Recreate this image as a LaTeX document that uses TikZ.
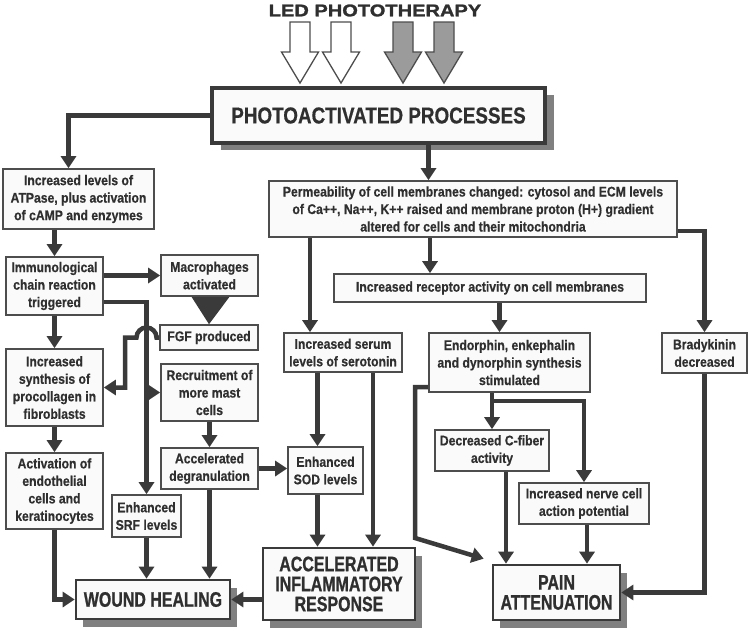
\documentclass[tikz,border=0pt]{standalone}
\usepackage{fontspec}
\setmainfont{Liberation Sans}
\newfontfamily\boxfont{Liberation Sans}[FakeStretch=0.87,FakeBold=0.5]
\newfontfamily\bigfont{Liberation Sans}[FakeStretch=0.76,FakeBold=0.9]
\newfontfamily\photofont{Liberation Sans}[FakeStretch=0.82,FakeBold=0.6]
\newfontfamily\ledfont{Liberation Sans}[FakeStretch=1.18,FakeBold=1.6]
\usetikzlibrary{arrows.meta,shadows,calc}
\definecolor{lc}{HTML}{3A3A3A}
\definecolor{bc}{HTML}{4D4D4D}
\definecolor{tc}{HTML}{2F2F2F}
\definecolor{sc}{HTML}{808080}
\definecolor{fc}{HTML}{FAFAFA}
\definecolor{ga}{HTML}{9B9B9B}
\tikzset{
 sbox/.style={draw=bc, line width=1.6pt, fill=fc, inner sep=0pt, align=center, text=tc,
   font=\boxfont\bfseries\fontsize{14}{17.5}\selectfont},
 bbox/.style={draw=lc, line width=2.6pt, fill=fc, inner sep=0pt, align=center, text=tc,
   font=\bigfont\bfseries\fontsize{21}{20}\selectfont,
   drop shadow={shadow xshift=7pt, shadow yshift=-8pt, fill=sc, opacity=1}},
 conn/.style={draw=lc, line width=4.5pt, -{Triangle[length=12pt,width=15pt]}},
 blk/.style={draw=bc, line width=1.3pt},
}
\begin{document}
\begin{tikzpicture}[x=1pt,y=-1pt]
\useasboundingbox (0,0) rectangle (749,630);
% title
\node[font=\ledfont\bfseries\fontsize{17}{17}\selectfont, text=tc, inner sep=0pt] (led) at (375,10.5) {LED PHOTOTHERAPY};
\foreach \x/\f in {300/white,341/white,403/ga,444/ga}
  \draw[blk, fill=\f] ({\x-10},22) -- ({\x+10},22) -- ({\x+10},52) -- ({\x+18.5},52) -- (\x,83) -- ({\x-18.5},52) -- ({\x-10},52) -- cycle;
\node[draw=lc, line width=4pt, fill=fc, inner sep=0pt, text=tc,
  font=\photofont\bfseries\fontsize{23}{23}\selectfont,
  minimum width=333pt, minimum height=55pt,
  drop shadow={shadow xshift=9pt,shadow yshift=-7pt,fill=sc,opacity=1}] (photo) at (378.5,115.5) {PHOTOACTIVATED PROCESSES};
% left column
\node[sbox, minimum width=151pt, minimum height=60pt] (atp) at (78.5,199) {Increased levels of\\ATPase, plus activation\\of cAMP and enzymes};
\node[sbox, minimum width=97pt, minimum height=58pt] (immuno) at (54.5,286) {Immunological\\chain reaction\\triggered};
\node[sbox, minimum width=97pt, minimum height=41pt] (macro) at (209.5,275.5) {Macrophages\\activated};
\node[sbox, minimum width=98pt, minimum height=25pt] (fgf) at (209,337.5) {FGF produced};
\node[sbox, minimum width=97pt, minimum height=77pt] (procoll) at (54.5,387.5) {Increased\\synthesis of\\procollagen in\\fibroblasts};
\node[sbox, minimum width=97pt, minimum height=57pt] (recruit) at (209.5,392.5) {Recruitment of\\more mast\\cells};
\node[sbox, minimum width=97pt, minimum height=76pt] (endo) at (54.5,491) {Activation of\\endothelial\\cells and\\keratinocytes};
\node[sbox, minimum width=97pt, minimum height=41pt] (accel) at (209.5,468.5) {Accelerated\\degranulation};
\node[sbox, minimum width=69pt, minimum height=42pt] (srf) at (146.5,516) {Enhanced\\SRF levels};
\node[bbox, minimum width=154pt, minimum height=39pt] (wound) at (153,599.5) {WOUND HEALING};
% right part
\node[sbox, minimum width=408pt, minimum height=56pt] (perm) at (473,209) {Permeability of cell membranes changed: cytosol and ECM levels\\of Ca++, Na++, K++ raised and membrane proton (H+) gradient\\altered for cells and their mitochondria};
\node[sbox, minimum width=312pt, minimum height=28pt] (recep) at (490,288) {Increased receptor activity on cell membranes};
\node[sbox, minimum width=118pt, minimum height=39pt] (sero) at (343,352.5) {Increased serum\\levels of serotonin};
\node[sbox, minimum width=75pt, minimum height=47pt] (sod) at (325.5,470.5) {Enhanced\\SOD levels};
\node[bbox, minimum width=152pt, minimum height=72pt] (acc) at (339,584) {ACCELERATED\\INFLAMMATORY\\RESPONSE};
\node[sbox, minimum width=161pt, minimum height=59pt] (endor) at (509.5,362.5) {Endorphin, enkephalin\\and dynorphin synthesis\\stimulated};
\node[sbox, minimum width=85pt, minimum height=40pt] (brady) at (704.5,353) {Bradykinin\\decreased};
\node[sbox, minimum width=114pt, minimum height=41pt] (cfib) at (492,450.5) {Decreased C-fiber\\activity};
\node[sbox, minimum width=130pt, minimum height=41pt] (nerve) at (584,503.5) {Increased nerve cell\\action potential};
\node[bbox, minimum width=127pt, minimum height=55pt] (pain) at (556.5,592.5) {PAIN\\ATTENUATION};
% connectors
\draw[conn] (photo.west) -| ([xshift=-10pt]atp.north);
\draw[conn] ([xshift=50pt]photo.south) -- ([xshift=50pt]photo.south |- perm.north);
\draw[conn] (atp.south -| immuno.north) -- (immuno.north);
\draw[conn] (immuno.east |- macro.west) -- (macro.west);
\fill[lc] ([xshift=-18pt]macro.south) -- ([xshift=20pt]macro.south) -- (fgf.north) -- cycle;
\draw[conn] ([yshift=-16pt]immuno.east) -| (srf.north);
\draw[conn] (srf.north |- recruit.west) -- (recruit.west);
\draw[conn] (fgf.west) -- (156.5,337.5) arc[start angle=0,end angle=180,radius=10pt] -- (125,337.5) |- (procoll.east);
\draw[conn] (immuno.south) -- (procoll.north);
\draw[conn] (procoll.south) -- (endo.north);
\draw[conn] (endo.south) |- (wound.west);
\draw[conn] (srf.south) -- (srf.south |- wound.north);
\draw[conn] (recruit.south) -- (accel.north);
\draw[conn] (accel.south) -- (accel.south |- wound.north);
\draw[conn] (accel.east) -- (accel.east -| sod.west);
\draw[conn] (wound.east -| acc.west) -- (wound.east);
\draw[conn] ([xshift=-33pt]sero.north |- perm.south) -- ([xshift=-33pt]sero.north);
\draw[conn] ([xshift=-8pt]sod.north |- sero.south) -- ([xshift=-8pt]sod.north);
\draw[conn] ([xshift=30pt]sero.south) -- ([xshift=30pt]sero.south |- acc.north);
\draw[conn] ([xshift=-8pt]sod.south) -- ([xshift=-8pt]sod.south |- acc.north);
\draw[conn] ([xshift=-43pt]perm.south) -- ([xshift=-43pt]perm.south |- recep.north);
\draw[conn] ([yshift=-22pt]perm.east) -| (brady.north);
\draw[conn] ([xshift=-10pt]endor.north |- recep.south) -- ([xshift=-10pt]endor.north);
\draw[conn] ([yshift=-24.5pt]endor.west) -| (415,538) -- ([xshift=-8pt,yshift=5pt]pain.north west);
\draw[conn] (endor.south -| cfib.north) -- (cfib.north);
\draw[conn] ($(endor.south -| cfib.north)+(0,8)$) -| (nerve.north);
\draw[conn] ([xshift=14pt]cfib.south) -- ([xshift=14pt]cfib.south |- pain.north);
\draw[conn] ([xshift=3pt]nerve.south) -- ([xshift=3pt]nerve.south |- pain.north);
\draw[conn] (brady.south) |- (pain.east);
\end{tikzpicture}
\end{document}
